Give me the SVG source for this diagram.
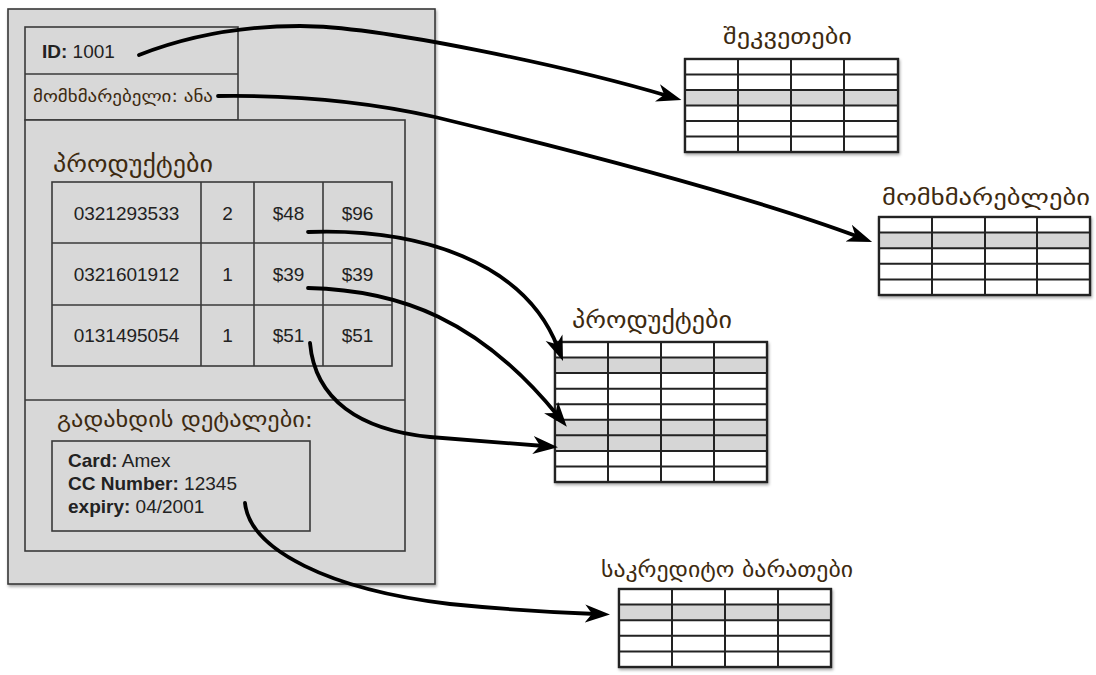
<svg xmlns="http://www.w3.org/2000/svg" width="1096" height="675" viewBox="0 0 1096 675">
  <defs>
    <style>
      .box { fill: #d8d8d8; stroke: #3a3a3a; stroke-width: 1.6; }
      .ln { stroke: #3a3a3a; stroke-width: 1.6; fill: none; }
      .tb { fill: #ffffff; stroke: #222; stroke-width: 2.2; }
      .sh { fill: #d6d6d6; }
      .tl { stroke: #222; stroke-width: 2; fill: none; }
      .lat { font-family: "Liberation Sans", Arial, sans-serif; font-size: 19px; fill: #222; }
      .b { font-weight: bold; }
      .geo { font-family: "DejaVu Sans", "Noto Sans Georgian", sans-serif; fill: #3d2a10; }
      .conn { fill: none; stroke: #000; stroke-width: 3.8; stroke-linecap: round; }
    </style>
    <marker id="ah" markerUnits="userSpaceOnUse" markerWidth="26" markerHeight="20" refX="11" refY="9" orient="auto" viewBox="0 0 26 18">
      <path d="M0,0 L25,9 L0,18 L7,9 Z" fill="#000"/>
    </marker>
    <filter id="shadow" x="-5%" y="-5%" width="115%" height="115%">
      <feDropShadow dx="1" dy="2" stdDeviation="1.5" flood-color="#000" flood-opacity="0.35"/>
    </filter>
  </defs>

  <rect width="1096" height="675" fill="#ffffff"/>

  <!-- Order record -->
  <g id="order">
    <rect class="box" x="8" y="9" width="427" height="575" filter="url(#shadow)"/>
    <g id="order-header">
      <rect class="box" x="25" y="27" width="213" height="93"/>
      <line class="ln" x1="25" y1="74" x2="238" y2="74"/>
      <text class="lat" x="42" y="58"><tspan class="b">ID:</tspan> 1001</text>
      <text class="geo" x="33" y="102" font-size="17" textLength="180" lengthAdjust="spacingAndGlyphs">მომხმარებელი: ანა</text>
    </g>
    <rect class="box" x="25" y="120" width="380" height="431"/>
    <line class="ln" x1="25" y1="400" x2="405" y2="400"/>
    <g id="order-products">
      <text class="geo" x="53" y="172" font-size="23" textLength="160" lengthAdjust="spacingAndGlyphs">პროდუქტები</text>
      <rect class="box" x="52" y="182" width="340" height="184"/>
      <line class="ln" x1="52" y1="243" x2="392" y2="243"/>
      <line class="ln" x1="52" y1="305" x2="392" y2="305"/>
      <line class="ln" x1="201" y1="182" x2="201" y2="366"/>
      <line class="ln" x1="254" y1="182" x2="254" y2="366"/>
      <line class="ln" x1="323" y1="182" x2="323" y2="366"/>
      <g class="lat" text-anchor="middle">
        <text x="126.5" y="220">0321293533</text>
        <text x="227.5" y="220">2</text>
        <text x="288.5" y="220">$48</text>
        <text x="357.5" y="220">$96</text>
        <text x="126.5" y="281">0321601912</text>
        <text x="227.5" y="281">1</text>
        <text x="288.5" y="281">$39</text>
        <text x="357.5" y="281">$39</text>
        <text x="126.5" y="342">0131495054</text>
        <text x="227.5" y="342">1</text>
        <text x="288.5" y="342">$51</text>
        <text x="357.5" y="342">$51</text>
      </g>
    </g>
    <g id="order-payment">
      <text class="geo" x="57" y="427" font-size="21" textLength="256" lengthAdjust="spacingAndGlyphs">გადახდის დეტალები:</text>
      <rect class="box" x="52" y="441" width="258" height="90"/>
      <text class="lat" x="68" y="467"><tspan class="b">Card:</tspan> Amex</text>
      <text class="lat" x="68" y="490"><tspan class="b">CC Number:</tspan> 12345</text>
      <text class="lat" x="68" y="513"><tspan class="b">expiry:</tspan> 04/2001</text>
    </g>
  </g>

  <!-- Orders table -->
  <g id="table-orders">
    <text class="geo" x="723" y="44" font-size="21" textLength="129" lengthAdjust="spacingAndGlyphs">შეკვეთები</text>
    <rect class="tb" x="685" y="59" width="213" height="93" filter="url(#shadow)"/>
    <rect class="sh" x="685" y="90" width="213" height="15.5"/>
    <path class="tl" d="M685,74.5H898M685,90H898M685,105.5H898M685,121H898M685,136.5H898M738,59V152M791,59V152M844,59V152"/>
    <rect class="tb" x="685" y="59" width="213" height="93" style="fill:none"/>
  </g>

  <!-- Users table -->
  <g id="table-users">
    <text class="geo" x="882" y="205" font-size="21" textLength="208" lengthAdjust="spacingAndGlyphs">მომხმარებლები</text>
    <rect class="tb" x="879" y="217" width="211" height="78" filter="url(#shadow)"/>
    <rect class="sh" x="879" y="232.6" width="211" height="15.6"/>
    <path class="tl" d="M879,232.6H1090M879,248.2H1090M879,263.8H1090M879,279.4H1090M932,217V295M985,217V295M1037,217V295"/>
    <rect class="tb" x="879" y="217" width="211" height="78" style="fill:none"/>
  </g>

  <!-- Products table -->
  <g id="table-products">
    <text class="geo" x="572" y="328" font-size="23" textLength="160" lengthAdjust="spacingAndGlyphs">პროდუქტები</text>
    <rect class="tb" x="555" y="342" width="212" height="140" filter="url(#shadow)"/>
    <rect class="sh" x="555" y="357.6" width="212" height="15.5"/>
    <rect class="sh" x="555" y="419.8" width="212" height="31.1"/>
    <path class="tl" d="M555,357.6H767M555,373.1H767M555,388.7H767M555,404.2H767M555,419.8H767M555,435.3H767M555,450.9H767M555,466.4H767M608,342V482M661,342V482M714,342V482"/>
    <rect class="tb" x="555" y="342" width="212" height="140" style="fill:none"/>
  </g>

  <!-- Credit cards table -->
  <g id="table-cards">
    <text class="geo" x="601" y="577" font-size="21" textLength="252" lengthAdjust="spacingAndGlyphs">საკრედიტო ბარათები</text>
    <rect class="tb" x="619" y="589" width="212" height="78" filter="url(#shadow)"/>
    <rect class="sh" x="619" y="604.6" width="212" height="15.6"/>
    <path class="tl" d="M619,604.6H831M619,620.2H831M619,635.8H831M619,651.4H831M672,589V667M725,589V667M778,589V667"/>
    <rect class="tb" x="619" y="589" width="212" height="78" style="fill:none"/>
  </g>

  <!-- Connectors -->
  <g id="connectors">
    <path class="conn" marker-end="url(#ah)" d="M139,55 C185,37 235,26 300,26 C380,26 570,67 668,96"/>
    <path class="conn" marker-end="url(#ah)" d="M218,96 C290,95 360,100 435,117 C600,157 760,200 859,237"/>
    <path class="conn" marker-end="url(#ah)" d="M308,232 C420,228 525,262 558,348"/>
    <path class="conn" marker-end="url(#ah)" d="M308,288 C400,290 480,320 558,416"/>
    <path class="conn" marker-end="url(#ah)" d="M310,343 C315,400 360,430 430,437 C480,441 520,444 544,446"/>
    <path class="conn" marker-end="url(#ah)" d="M245,503 C250,550 330,590 450,604 C520,611 570,613 596,614"/>
  </g>
</svg>
